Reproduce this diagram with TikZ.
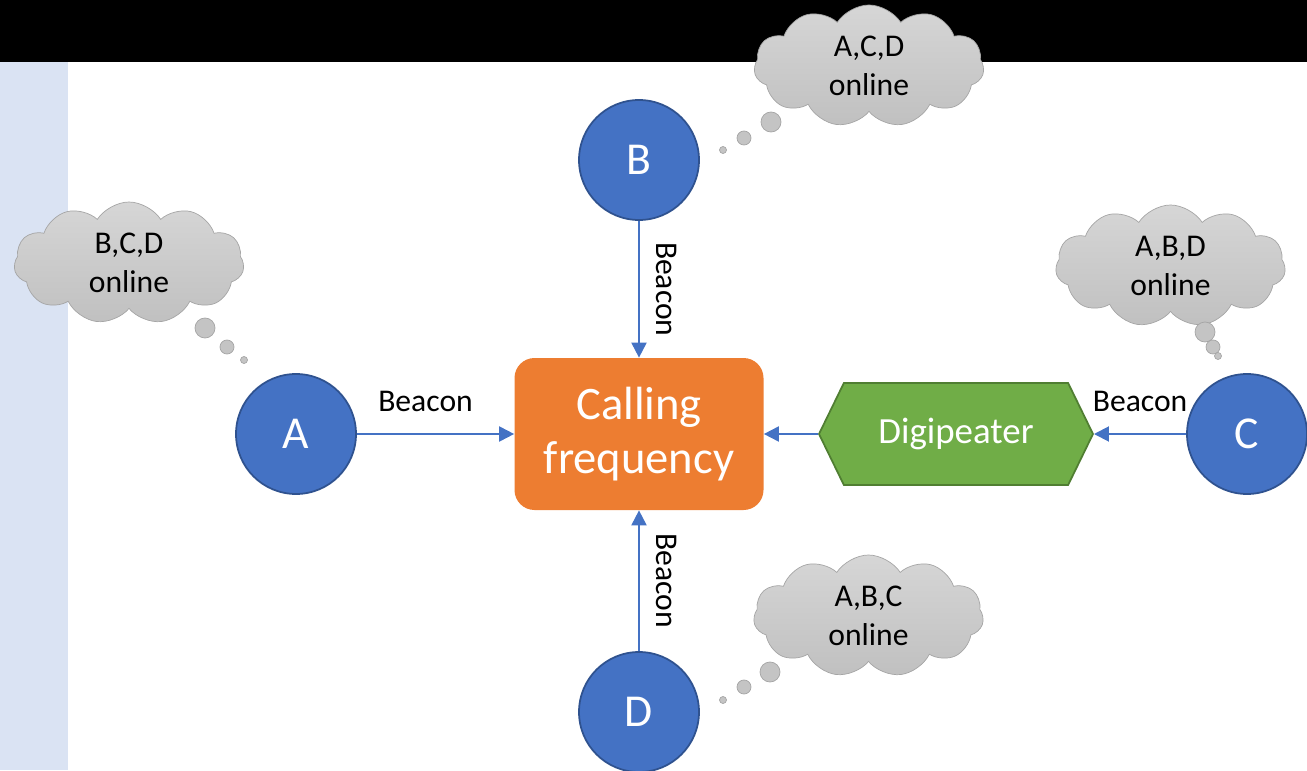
\documentclass[tikz,border=0pt]{standalone}
\usepackage{fontspec}
\setmainfont{Carlito}
\usetikzlibrary{arrows.meta,shapes.symbols,shapes.geometric,positioning}
\newcommand*{\xMax}{26.14}
\newcommand*{\yMax}{15.4}
\definecolor{Station}{RGB}{68,114,196}
\definecolor{StationLine}{RGB}{47,82,143}
\definecolor{Calling}{RGB}{237,125,49}
\definecolor{DigiGreen}{RGB}{112,173,71}
\definecolor{DigiLine}{RGB}{80,126,50}
\definecolor{CloudTop}{RGB}{214,214,214}
\definecolor{CloudBot}{RGB}{192,192,192}
\definecolor{CloudLine}{RGB}{165,165,165}
\definecolor{Strip}{RGB}{218,227,243}

\begin{document}
\begin{tikzpicture}[
	station/.style={circle,fill=Station,draw=StationLine,line width=1pt,minimum size=2.4cm,text=white,font=\fontsize{26}{30}\selectfont},
	beam/.style={-{Triangle[width=3mm,length=3mm]},line width=1.1pt,draw=Station},
	beacon/.style={font=\fontsize{18}{21}\selectfont},
	thought/.style={cloud,cloud puffs=11,cloud puff arc=115,cloud ignores aspect,minimum width=4.6cm,minimum height=2.44cm,draw=CloudLine,top color=CloudTop,bottom color=CloudBot,align=center,font=\fontsize{18}{22}\selectfont},
	bubble/.style={draw=CloudLine,fill=CloudBot!80!CloudTop}]
\useasboundingbox (0,0) rectangle (\xMax,\yMax);

% background
\fill[black] (0,14.16) rectangle (\xMax,\yMax);
\fill[Strip] (0,0) rectangle (1.36,14.16);

% stations
\node[station] (A) at (5.92,6.72) {A};
\node[station] (B) at (12.78,12.2) {B};
\node[station] (C) at (24.94,6.72) {C};
\node[station] (D) at (12.78,1.16) {D};

\node[rectangle,rounded corners=0.4cm,fill=Calling,minimum width=4.98cm,minimum height=3.04cm,text=white,align=center,font=\fontsize{26.5}{31}\selectfont] (call) at (12.78,6.72) {Calling\\frequency};
\node[signal,signal to=west and east,signal pointer angle=128,minimum width=5.48cm,minimum height=2.04cm,fill=DigiGreen,draw=DigiLine,line width=1pt,text=white,font=\fontsize{21}{24}\selectfont] (digi) at (19.12,6.72) {Digipeater};

\draw[beam] (A) -- node[beacon,above=9pt,xshift=-0.2cm] {Beacon} (call);
\draw[beam] (B) -- node[beacon,rotate=-90,anchor=south,inner sep=9pt] {Beacon} (call);
\draw[beam] (D) -- node[beacon,rotate=-90,anchor=south,inner sep=9pt] {Beacon} (call);
\draw[beam] (digi) -- (call);
\draw[beam] (C) -- node[beacon,above=9pt] {Beacon} (digi);

% thought clouds
\node[thought] (cloudA) at (2.58,10.14) {B,C,D\\online};
\node[thought] (cloudB) at (17.38,14.08) {A,C,D\\online};
\node[thought] (cloudC) at (23.41,10.08) {A,B,D\\online};
\node[thought] (cloudD) at (17.37,3.08) {A,B,C\\online};

\foreach \x/\y/\r in {4.1/8.84/0.2,4.54/8.46/0.14,4.88/8.2/0.07,
	15.42/12.96/0.2,14.88/12.64/0.14,14.46/12.4/0.07,
	24.1/8.76/0.2,24.26/8.46/0.14,24.36/8.28/0.07,
	15.4/1.96/0.2,14.88/1.66/0.14,14.46/1.4/0.07}
	\filldraw[bubble] (\x,\y) circle (\r);
\end{tikzpicture}
\end{document}
